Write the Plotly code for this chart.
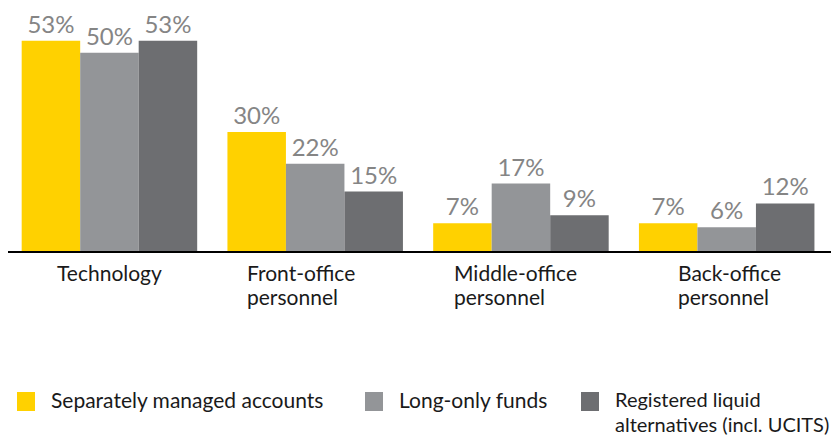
import plotly.graph_objects as go

categories = ["Technology", "Front-office<br>personnel", "Middle-office<br>personnel", "Back-office<br>personnel"]
series_names = ["Separately managed accounts", "Long-only funds", "Registered liquid<br>alternatives (incl. UCITS)"]
sma = [53, 30, 7, 7]
long_only = [50, 22, 17, 6]
rla = [53, 15, 9, 12]
colors = ["#FFD100", "#939598", "#6D6E71"]

# page has an 8px body margin; coordinates below are page (reference) pixels
OFF = 8
W, H = 832, 427
L, R, T, B = 0, 9, 5, 184
PW = W - L - R
PH = H - T - B
FONT = "Lato"


def px(x):
    return (x - OFF - L) / PW


def py(y):
    return (T + PH - (y - OFF)) / PH


fig = go.Figure()
for name, vals, c in zip(series_names, [sma, long_only, rla], colors):
    fig.add_trace(go.Bar(
        x=categories, y=vals, name=name,
        marker=dict(color=c, line=dict(width=0)),
        text=[f"{v}%" for v in vals], textposition="outside",
        textfont=dict(color="#858585", size=24, family=FONT),
        cliponaxis=False, showlegend=False,
    ))

annotations = []
label_shift = [-54, -70, -69, -51]
LINE_GAP = 24
for cat, sh in zip(categories, label_shift):
    for i, line in enumerate(cat.split("<br>")):
        annotations.append(dict(
            x=cat, xref="x", y=py(258 + i * LINE_GAP), yref="paper",
            xanchor="left", yanchor="top", xshift=sh, align="left",
            showarrow=False, text=line,
            font=dict(size=21, color="#1a1a1a", family=FONT),
        ))

shapes = []
leg_sq_x = [17, 365, 581]
leg_txt_x = [49, 397, 613]
leg_font = [21, 21, 20]
for name, c, sx, tx, fs in zip(series_names, colors, leg_sq_x, leg_txt_x, leg_font):
    shapes.append(dict(type="rect", xref="paper", yref="paper",
                       x0=px(sx), x1=px(sx + 18), y0=py(411), y1=py(392),
                       fillcolor=c, line=dict(width=0)))
    for i, line in enumerate(name.split("<br>")):
        annotations.append(dict(
            x=px(tx), xref="paper", y=py(385 + i * 25), yref="paper",
            xanchor="left", yanchor="top", align="left", showarrow=False,
            text=line, font=dict(size=fs, color="#1a1a1a", family=FONT),
        ))

fig.update_layout(
    width=W, height=H,
    margin=dict(l=L, r=R, t=T, b=B),
    paper_bgcolor="white", plot_bgcolor="white",
    barmode="group", bargap=0.147, bargroupgap=0,
    xaxis=dict(range=[-0.493, 3.507], showticklabels=False, showline=True,
               linecolor="black", linewidth=2, ticks="", showgrid=False,
               zeroline=False),
    yaxis=dict(range=[0, 60], visible=False, showgrid=False, zeroline=False),
    annotations=annotations, shapes=shapes,
)

fig.write_html("out.html")
